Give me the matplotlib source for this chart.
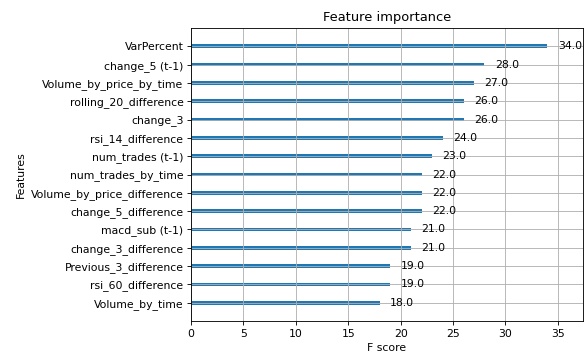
import matplotlib
matplotlib.use("Agg")
import matplotlib.pyplot as plt

features = ["VarPercent", "change_5 (t-1)", "Volume_by_price_by_time", "rolling_20_difference",
            "change_3", "rsi_14_difference", "num_trades (t-1)", "num_trades_by_time",
            "Volume_by_price_difference", "change_5_difference", "macd_sub (t-1)",
            "change_3_difference", "Previous_3_difference", "rsi_60_difference", "Volume_by_time"]
scores = [34.0, 28.0, 27.0, 26.0, 26.0, 24.0, 23.0, 22.0, 22.0, 22.0, 21.0, 21.0, 19.0, 19.0, 18.0]

# plot in ascending order (bottom to top)
feats = features[::-1]
vals = scores[::-1]

DPI = 78
fig, ax = plt.subplots(figsize=(585 / DPI, 354 / DPI), dpi=DPI)
ylocs = list(range(len(vals)))
ax.barh(ylocs, vals, align="center", height=0.2)
for x, y in zip(vals, ylocs):
    ax.text(x + 1, y, str(x), va="center")
ax.set_yticks(ylocs)
ax.set_yticklabels(feats)
ax.set_xlim(0, max(vals) * 1.1)
ax.set_ylim(-1, len(vals))
ax.set_title("Feature importance")
ax.set_xlabel("F score")
ax.set_ylabel("Features")
ax.grid(True)
fig.subplots_adjust(left=191 / 585, right=583 / 585, top=1 - 28 / 354, bottom=1 - 321 / 354)
fig.savefig("out.png", dpi=DPI)
